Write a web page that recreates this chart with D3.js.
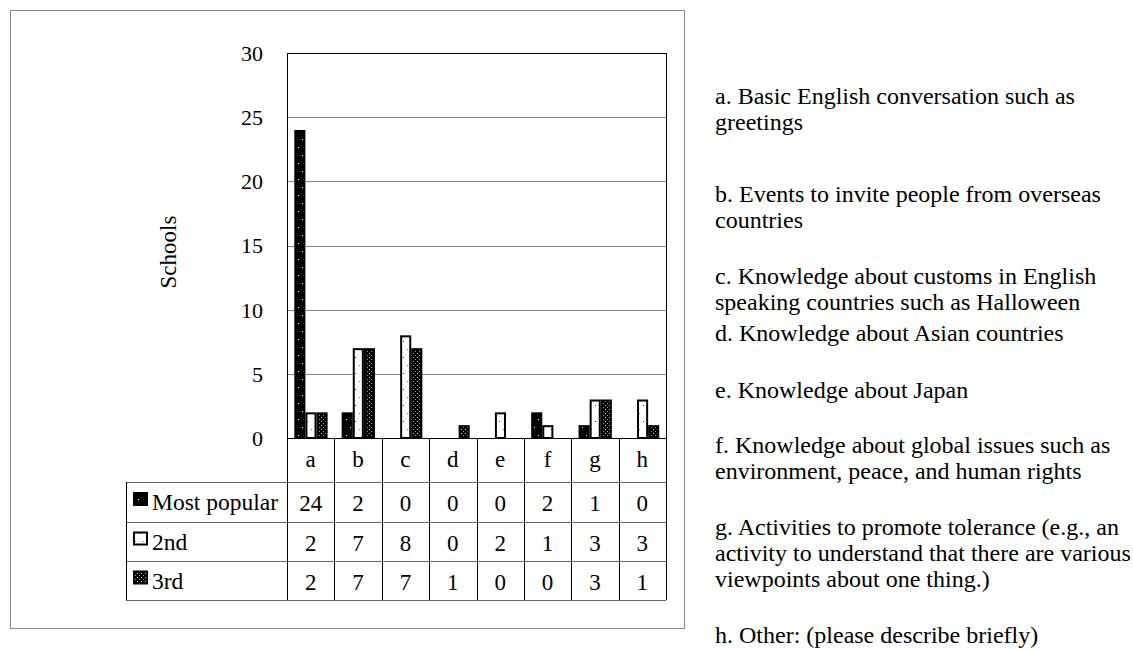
<!DOCTYPE html>
<html>
<head>
<meta charset="utf-8">
<script src="https://cdn.jsdelivr.net/npm/d3@7"></script>
<style>
  body { margin: 0; background: #fff; }
</style>
</head>
<body>
<svg id="chart" width="1133" height="649"></svg>
<script>
const categories = ['a', 'b', 'c', 'd', 'e', 'f', 'g', 'h'];
const seriesNames = ['Most popular', '2nd', '3rd'];
const mostPopular = [24, 2, 0, 0, 0, 2, 1, 0];
const second = [2, 7, 8, 0, 2, 1, 3, 3];
const third = [2, 7, 7, 1, 0, 0, 3, 1];
const yTicks = [0, 5, 10, 15, 20, 25, 30];
const notes = [
  ['a. Basic English conversation such as', 'greetings'],
  ['b. Events to invite people from overseas', 'countries'],
  ['c. Knowledge about customs in English', 'speaking countries such as Halloween'],
  ['d. Knowledge about Asian countries'],
  ['e. Knowledge about Japan'],
  ['f. Knowledge about global issues such as', 'environment, peace, and human rights'],
  ['g. Activities to promote tolerance (e.g., an', 'activity to understand that there are various', 'viewpoints about one thing.)'],
  ['h. Other: (please describe briefly)']
];
const noteTops = [98, 196, 278, 335, 392, 447, 529, 637];

const seriesValues = [mostPopular, second, third];
const FONT = "'Liberation Serif', 'Times New Roman', serif";

const svg = d3.select('#chart')
  .attr('font-family', FONT);
const plot = { left: 287, right: 666, top: 53, bottom: 438 };

// patterns
const defs = svg.append('defs');
const p1 = defs.append('pattern').attr('id', 'pat0')
  .attr('patternUnits', 'userSpaceOnUse').attr('width', 8).attr('height', 16);
p1.append('rect').attr('width', 8).attr('height', 16).attr('fill', '#000');
p1.append('rect').attr('x', 2).attr('y', 3).attr('width', 1).attr('height', 1).attr('fill', '#fff');
p1.append('rect').attr('x', 6).attr('y', 11).attr('width', 1).attr('height', 1).attr('fill', '#fff');

const p2 = defs.append('pattern').attr('id', 'pat1')
  .attr('patternUnits', 'userSpaceOnUse').attr('width', 8).attr('height', 16);
p2.append('rect').attr('width', 8).attr('height', 16).attr('fill', '#fff');
p2.append('rect').attr('x', 3).attr('y', 5).attr('width', 1).attr('height', 1).attr('fill', '#444');
p2.append('rect').attr('x', 7).attr('y', 13).attr('width', 1).attr('height', 1).attr('fill', '#777');

const p3 = defs.append('pattern').attr('id', 'pat2')
  .attr('patternUnits', 'userSpaceOnUse').attr('width', 4).attr('height', 4);
p3.append('rect').attr('width', 4).attr('height', 4).attr('fill', '#000');
p3.append('rect').attr('x', 1).attr('y', 1).attr('width', 1).attr('height', 1).attr('fill', '#ddd');
p3.append('rect').attr('x', 3).attr('y', 3).attr('width', 1).attr('height', 1).attr('fill', '#999');

// outer frame
svg.append('rect')
  .attr('x', 10.5).attr('y', 10.5).attr('width', 674).attr('height', 618)
  .attr('fill', 'none').attr('stroke', '#888').attr('stroke-width', 1);

const x = d3.scaleBand().domain(categories).range([plot.left, plot.right]);
const xs = d3.scaleBand().domain(d3.range(3)).range([7.3, 40.6]);
const y = d3.scaleLinear().domain([0, 30]).range([plot.bottom, plot.top]);

// gridlines
svg.append('g')
  .selectAll('line')
  .data(yTicks.slice(1, -1))
  .join('line')
    .attr('x1', plot.left).attr('x2', plot.right)
    .attr('y1', d => Math.round(y(d)) + 0.5).attr('y2', d => Math.round(y(d)) + 0.5)
    .attr('stroke', '#888');

// y axis labels
const yAxis = svg.append('g')
  .attr('transform', `translate(${plot.left},0)`)
  .call(d3.axisLeft(y).tickValues(yTicks).tickSize(0).tickPadding(24));
yAxis.attr('font-family', FONT).attr('font-size', 22);
yAxis.select('.domain').remove();
yAxis.selectAll('text').attr('fill', '#000').attr('dy', '0.34em');

svg.append('text')
  .attr('transform', `translate(176,252)rotate(-90)`)
  .attr('text-anchor', 'middle')
  .attr('font-size', 23)
  .text('Schools');

// bars
const barData = [];
categories.forEach((c, i) => {
  seriesValues.forEach((vals, s) => {
    barData.push({ cat: c, s, v: vals[i] });
  });
});

svg.append('g')
  .selectAll('rect')
  .data(barData.filter(d => d.v > 0))
  .join('rect')
    .attr('x', d => x(d.cat) + xs(d.s) + 1)
    .attr('y', d => y(d.v) + 1)
    .attr('width', xs.bandwidth() - 2)
    .attr('height', d => y(0) - y(d.v) - 1)
    .attr('fill', d => `url(#pat${d.s})`)
    .attr('stroke', '#000')
    .attr('stroke-width', 2);

// plot frame
svg.append('rect')
  .attr('x', plot.left + 0.5).attr('y', plot.top + 0.5)
  .attr('width', plot.right - plot.left).attr('height', plot.bottom - plot.top)
  .attr('fill', 'none').attr('stroke', '#000');

// data table
const rowEdges = [438, 482, 522, 561, 600];
const tableLeft = 126;
const table = svg.append('g');

table.append('line')
  .attr('x1', plot.left).attr('x2', plot.right)
  .attr('y1', rowEdges[0] + 0.5).attr('y2', rowEdges[0] + 0.5)
  .attr('stroke', '#000');
table.selectAll('.hline')
  .data(rowEdges.slice(1))
  .join('line')
    .attr('class', 'hline')
    .attr('x1', tableLeft).attr('x2', plot.right)
    .attr('y1', d => d + 0.5).attr('y2', d => d + 0.5)
    .attr('stroke', '#666');

table.selectAll('.vline')
  .data(categories.map(c => x(c)).concat([plot.right]))
  .join('line')
    .attr('class', 'vline')
    .attr('x1', d => Math.round(d) + 0.5).attr('x2', d => Math.round(d) + 0.5)
    .attr('y1', rowEdges[0]).attr('y2', rowEdges[4])
    .attr('stroke', '#000');
table.append('line')
  .attr('x1', tableLeft + 0.5).attr('x2', tableLeft + 0.5)
  .attr('y1', rowEdges[1]).attr('y2', rowEdges[4])
  .attr('stroke', '#000');

// category labels
table.selectAll('.cat')
  .data(categories)
  .join('text')
    .attr('class', 'cat')
    .attr('x', d => x(d) + x.bandwidth() / 2)
    .attr('y', (rowEdges[0] + rowEdges[1]) / 2 + 7)
    .attr('text-anchor', 'middle')
    .attr('font-size', 23)
    .text(d => d);

// legend cells + values
seriesNames.forEach((name, s) => {
  const cy = (rowEdges[s + 1] + rowEdges[s + 2]) / 2;
  table.append('rect')
    .attr('x', 134).attr('y', cy - 9)
    .attr('width', 13).attr('height', 12)
    .attr('fill', `url(#pat${s})`)
    .attr('stroke', '#000').attr('stroke-width', 2);
  table.append('text')
    .attr('x', 152).attr('y', cy + 8)
    .attr('font-size', 23.5)
    .text(name);
  table.selectAll(`.val${s}`)
    .data(seriesValues[s])
    .join('text')
      .attr('class', `val${s}`)
      .attr('x', (d, i) => x(categories[i]) + x.bandwidth() / 2)
      .attr('y', cy + 9)
      .attr('text-anchor', 'middle')
      .attr('font-size', 23)
      .text(d => d);
});

// notes on the right
const notesG = svg.append('g');
notes.forEach((lines, i) => {
  lines.forEach((line, j) => {
    notesG.append('text')
      .attr('x', 715)
      .attr('y', noteTops[i] + 6 + j * 26)
      .attr('font-size', 24)
      .text(line);
  });
});
</script>
</body>
</html>
